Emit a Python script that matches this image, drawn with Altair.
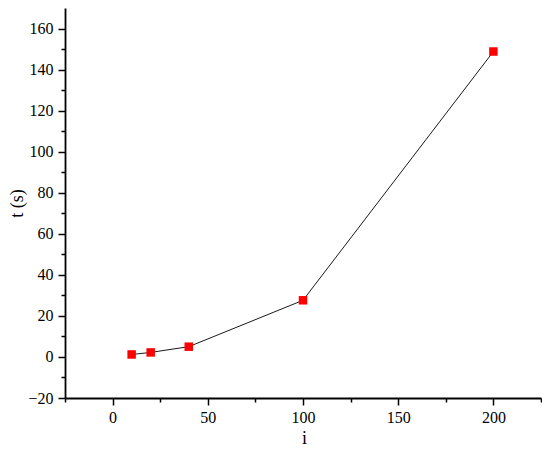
import altair as alt
import pandas as pd

i_vals = [10, 20, 40, 100, 200]
t_vals = [1.2, 2.2, 5.0, 27.6, 148.8]

x_major = [0, 50, 100, 150, 200]
x_minor = [-25, 25, 75, 125, 175, 225]
y_major = [-20, 0, 20, 40, 60, 80, 100, 120, 140, 160]
y_minor = [-10, 10, 30, 50, 70, 90, 110, 130, 150]

df = pd.DataFrame({"i": i_vals, "t": t_vals})

FONT = "Times New Roman"
xs = alt.Scale(domain=[-25, 225], nice=False, zero=False)
ys = alt.Scale(domain=[-20, 170], nice=False, zero=False)

major_x = alt.Axis(
    orient="bottom", values=x_major, title="i", grid=False, format="d",
    tickSize=7, tickWidth=1.5, tickColor="black", domainColor="black", domainWidth=1.8,
    labelFont=FONT, labelFontSize=16, labelColor="black", labelPadding=4,
    titleFont=FONT, titleFontSize=18, titleFontWeight="normal", titleColor="black",
    titleX=239, titleY=45, titleBaseline="alphabetic", titleAlign="center",
)
major_y = alt.Axis(
    orient="left", values=y_major, title="t (s)", grid=False, format="d",
    tickSize=7, tickWidth=1.5, tickColor="black", domainColor="black", domainWidth=1.8,
    labelFont=FONT, labelFontSize=16, labelColor="black", labelPadding=5,
    titleFont=FONT, titleFontSize=18, titleFontWeight="normal", titleColor="black",
    titleX=-48, titleY=195, titleAngle=-90, titleBaseline="middle", titleAlign="center",
)
minor_x = alt.Axis(
    orient="bottom", values=x_minor, title=None, labels=False, grid=False, domain=False,
    tickSize=4, tickWidth=1.5, tickColor="black",
)
minor_y = alt.Axis(
    orient="left", values=y_minor, title=None, labels=False, grid=False, domain=False,
    tickSize=4, tickWidth=1.5, tickColor="black",
)

base = alt.Chart(df)

line = base.mark_line(color="#1a1a1a", strokeWidth=1).encode(
    x=alt.X("i:Q", scale=xs, axis=major_x),
    y=alt.Y("t:Q", scale=ys, axis=major_y),
)
minor = base.mark_point(opacity=0).encode(
    x=alt.X("i:Q", scale=xs, axis=minor_x),
    y=alt.Y("t:Q", scale=ys, axis=minor_y),
)
pts = base.mark_square(size=72, color="#ff0000", opacity=1).encode(
    x=alt.X("i:Q", scale=xs, axis=None),
    y=alt.Y("t:Q", scale=ys, axis=None),
)

chart = (
    alt.layer(line, minor, pts)
    .resolve_axis(x="independent", y="independent")
    .properties(
        width=476,
        height=390,
        autosize=alt.AutoSizeParams(type="none"),
        padding={"left": 57, "top": 0, "right": 1, "bottom": 50},
        background="white",
    )
    .configure_view(stroke=None)
)

chart.save("out.html", embed_options={"renderer": "svg", "actions": False})
